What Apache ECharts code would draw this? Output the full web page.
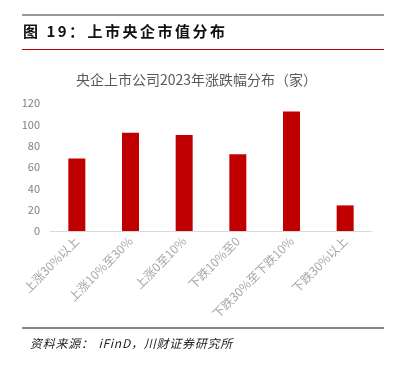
<!DOCTYPE html>
<html><head><meta charset="utf-8">
<script src="https://cdn.jsdelivr.net/npm/echarts@6/dist/echarts.min.js"></script>
<style>html,body{margin:0;padding:0;background:#fff}#c{width:393px;height:374px}</style>
</head><body><div id="c"></div>
<script>
const categories = ['上涨30%以上','上涨10%至30%','上涨0至10%','下跌10%至0','下跌30%至下跌10%','下跌30%以上'];
const counts = [68, 92, 90, 72, 112, 24];
const yTicks = [0, 20, 40, 60, 80, 100, 120];
const chart = echarts.init(document.getElementById('c'));
const CJK = '"Noto Sans CJK SC", sans-serif';
const sp = (s, c) => s.split('').join(c || '\u2006');
chart.setOption({
  animation: false,
  backgroundColor: '#fff',
  title: {
    text: '央企上市公司2023年涨跌幅分布（家）',
    left: 'center', top: 68,
    textStyle: { fontFamily: CJK, fontSize: 14, fontWeight: 'normal', color: '#595959' }
  },
  graphic: [
    { type: 'rect', shape: { x: 22, y: 14, width: 362, height: 2 }, style: { fill: '#999' } },
    { type: 'text', left: 23, top: 24, style: { text: sp('图 19：') + ' ' + sp('上市央企市值分布'), font: 'bold 15px "Noto Sans CJK SC"', fill: '#111' } },
    { type: 'rect', shape: { x: 22, y: 49, width: 362, height: 1 }, style: { fill: '#C00000' } },
    { type: 'rect', shape: { x: 22, y: 327, width: 362, height: 2 }, style: { fill: '#888' } },
    { type: 'text', left: 30, top: 337, style: { text: sp('资料来源：', '\u200A') + '  ' + sp('iFinD，川财证券研究所', '\u200A'), font: 'italic 12px "Noto Sans CJK SC"', fill: '#222' } }
  ],
  grid: { left: 50, right: 21, top: 103, bottom: 143 },
  xAxis: {
    type: 'category', data: categories,
    axisLine: { lineStyle: { color: '#d9d9d9' } },
    axisTick: { show: false },
    axisLabel: { rotate: 45, interval: 0, color: '#a6a6a6', fontSize: 12, fontFamily: CJK, margin: 8 }
  },
  yAxis: {
    type: 'value', min: yTicks[0], max: yTicks[yTicks.length - 1], interval: 20,
    splitLine: { show: false },
    axisLine: { show: false }, axisTick: { show: false },
    axisLabel: { color: '#7f7f7f', fontSize: 11, fontFamily: CJK, margin: 10 }
  },
  series: [{
    type: 'bar', data: counts, barWidth: 17,
    itemStyle: { color: '#C00000' }
  }]
});
</script></body></html>
